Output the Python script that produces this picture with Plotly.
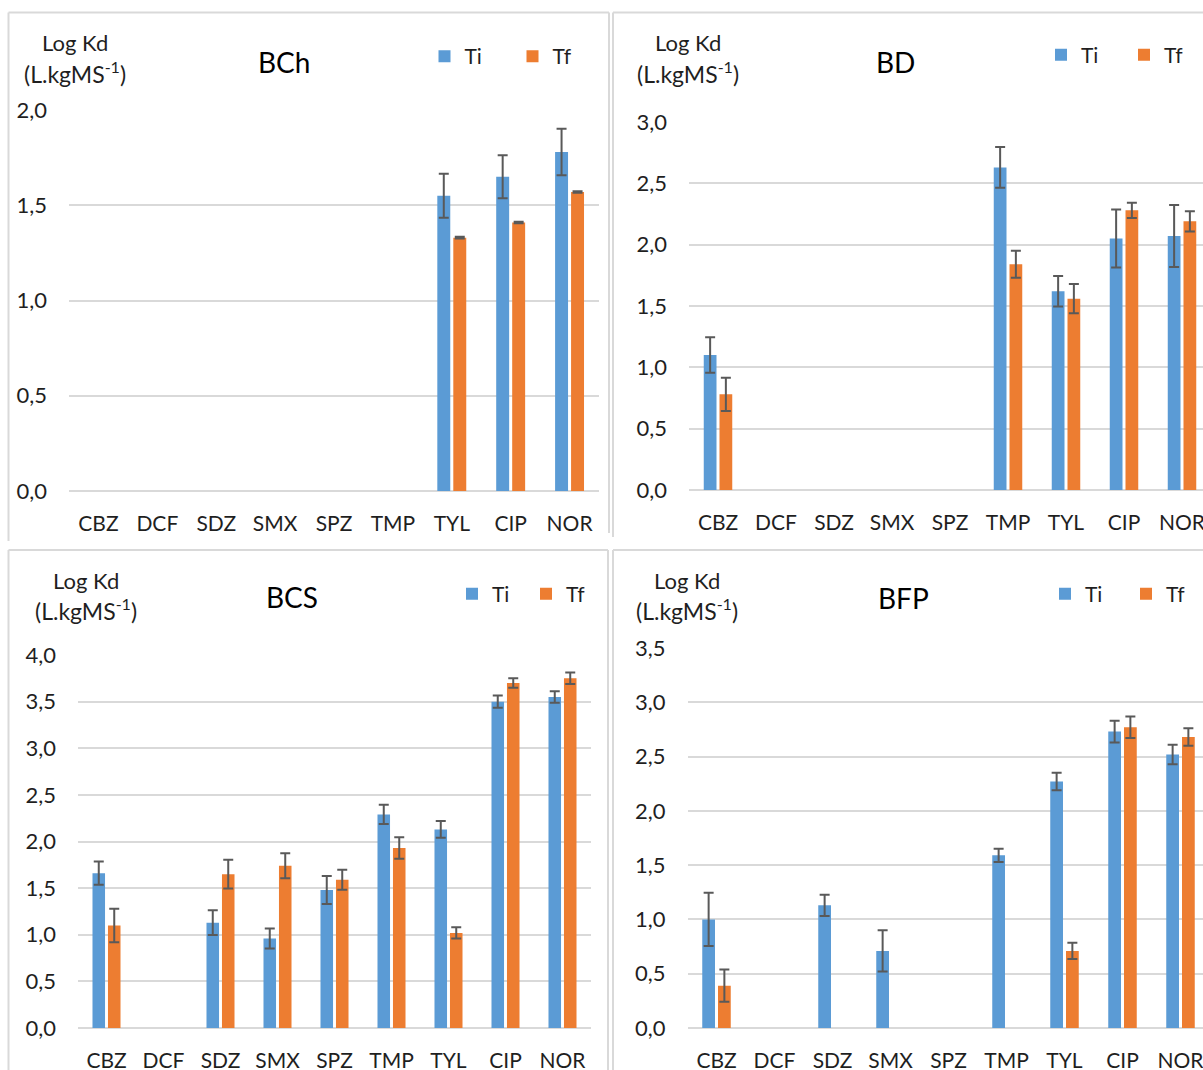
import plotly.graph_objects as go

W, H = 1203, 1070

categories = ["CBZ", "DCF", "SDZ", "SMX", "SPZ", "TMP", "TYL", "CIP", "NOR"]
series_names = ["Ti", "Tf"]

# BCh
bch_ti = [None, None, None, None, None, None, 1.55, 1.65, 1.78]
bch_ti_err = [0, 0, 0, 0, 0, 0, 0.115, 0.113, 0.122]
bch_tf = [None, None, None, None, None, None, 1.33, 1.41, 1.57]
bch_tf_err = [0, 0, 0, 0, 0, 0, 0.004, 0.004, 0.004]

# BD
bd_ti = [1.10, None, None, None, None, 2.63, 1.62, 2.05, 2.07]
bd_ti_err = [0.145, 0, 0, 0, 0, 0.167, 0.124, 0.236, 0.253]
bd_tf = [0.78, None, None, None, None, 1.84, 1.56, 2.28, 2.19]
bd_tf_err = [0.135, 0, 0, 0, 0, 0.11, 0.12, 0.062, 0.082]

# BCS
bcs_ti = [1.66, None, 1.13, 0.96, 1.48, 2.29, 2.13, 3.50, 3.55]
bcs_ti_err = [0.125, 0, 0.134, 0.108, 0.15, 0.103, 0.09, 0.065, 0.062]
bcs_tf = [1.10, None, 1.65, 1.74, 1.59, 1.93, 1.02, 3.70, 3.75]
bcs_tf_err = [0.18, 0, 0.153, 0.135, 0.108, 0.115, 0.06, 0.052, 0.062]

# BFP
bfp_ti = [1.00, None, 1.13, 0.71, None, 1.59, 2.27, 2.73, 2.52]
bfp_ti_err = [0.245, 0, 0.098, 0.19, 0, 0.062, 0.08, 0.10, 0.09]
bfp_tf = [0.39, None, None, None, None, None, 0.71, 2.77, 2.68]
bfp_tf_err = [0.148, 0, 0, 0, 0, 0, 0.075, 0.10, 0.08]

panel_titles = ["BCh", "BD", "BCS", "BFP"]
y_max = [2.0, 3.0, 4.0, 3.5]

BLUE = "#5B9BD5"
ORANGE = "#ED7D31"
ERR = "#595959"
GRID = "#D9D9D9"
TXT = "#1f1f1f"
FONT = "Lato"

panels = [
    (bch_ti, bch_ti_err, bch_tf, bch_tf_err),
    (bd_ti, bd_ti_err, bd_tf, bd_tf_err),
    (bcs_ti, bcs_ti_err, bcs_tf, bcs_tf_err),
    (bfp_ti, bfp_ti_err, bfp_tf, bfp_tf_err),
]

# pixel layout of each panel
geo = [
    dict(x0=69, x1=599, slot=530 / 9, yt=110, yb=491,
         title=(284, 62), ylab=(75, 42, 72), leg=(444.5, 56.5), legw=43),
    dict(x0=689, x1=1203, slot=58, yt=122, yb=490,
         title=(895, 62), ylab=(688, 42, 72), leg=(1061, 55), legw=38),
    dict(x0=78, x1=591, slot=513 / 9, yt=655, yb=1028,
         title=(292, 597), ylab=(86, 580, 609), leg=(472, 594), legw=29),
    dict(x0=687.5, x1=1203, slot=58, yt=648, yb=1028,
         title=(903, 598), ylab=(687, 580, 609), leg=(1065, 594), legw=36),
]

fig = go.Figure()
layout = {}
annotations = []

for i, (pdata, g) in enumerate(zip(panels, geo)):
    n = i + 1
    sfx = "" if n == 1 else str(n)
    xa, ya = "x" + sfx, "y" + sfx
    lg = "legend" + sfx
    ti, ti_e, tf, tf_e = pdata
    for name, vals, errs, col in [(series_names[0], ti, ti_e, BLUE), (series_names[1], tf, tf_e, ORANGE)]:
        fig.add_trace(go.Bar(
            x=categories, y=vals, name=name, marker=dict(color=col, line=dict(width=0)),
            error_y=dict(type="data", array=errs, visible=True, color=ERR, thickness=2, width=5),
            xaxis=xa, yaxis=ya, legend=lg, showlegend=True,
        ))
    xr_end = -0.5 + (g["x1"] - g["x0"]) / g["slot"]
    layout["xaxis" + sfx] = dict(
        domain=[g["x0"] / W, g["x1"] / W], anchor=ya, type="category",
        range=[-0.5, xr_end], showgrid=False, showline=False, zeroline=False,
        ticks="", tickfont=dict(family=FONT, size=21, color=TXT), ticklabelstandoff=18,
        automargin=False, fixedrange=True,
    )
    layout["yaxis" + sfx] = dict(
        domain=[1 - g["yb"] / H, 1 - g["yt"] / H], anchor=xa,
        range=[0, y_max[i]], dtick=0.5, tickformat=".1f", showgrid=True, gridcolor=GRID,
        gridwidth=2, zeroline=True, zerolinecolor=GRID, zerolinewidth=2, showline=False,
        ticks="", tickfont=dict(family=FONT, size=22, color=TXT), ticklabelstandoff=21,
        automargin=False, fixedrange=True,
    )
    layout[lg] = dict(
        orientation="h", x=(g["leg"][0] - 20) / W, xanchor="left",
        y=1 - g["leg"][1] / H, yanchor="middle",
        font=dict(family=FONT, size=21, color=TXT), bgcolor="rgba(0,0,0,0)",
        entrywidth=g["legw"], entrywidthmode="pixels", itemclick=False,
    )
    annotations.append(dict(
        text=panel_titles[i], x=g["title"][0] / W, y=1 - g["title"][1] / H,
        xref="paper", yref="paper", xanchor="center", yanchor="middle", showarrow=False,
        font=dict(family=FONT, size=28, color="#000"),
    ))
    annotations.append(dict(
        text="Log Kd", x=g["ylab"][0] / W, y=1 - g["ylab"][1] / H,
        xref="paper", yref="paper", xanchor="center", yanchor="middle", showarrow=False,
        font=dict(family=FONT, size=22, color=TXT),
    ))
    annotations.append(dict(
        text="(L.kgMS<sup>-1</sup>)", x=g["ylab"][0] / W, y=1 - g["ylab"][2] / H,
        xref="paper", yref="paper", xanchor="center", yanchor="middle", showarrow=False,
        font=dict(family=FONT, size=23, color=TXT),
    ))


def line(x0, y0, x1, y1):
    return dict(type="line", xref="paper", yref="paper",
                x0=x0 / W, y0=1 - y0 / H, x1=x1 / W, y1=1 - y1 / H,
                line=dict(color=GRID, width=2), layer="below")


shapes = [
    line(8.5, 12.5, 8.5, 541), line(8.5, 12.5, 609, 12.5), line(609, 12.5, 609, 533),
    line(613, 12.5, 613, 537), line(613, 12.5, 1203, 12.5),
    line(8.5, 550, 8.5, 1070), line(8.5, 550, 608, 550), line(608, 550, 608, 1070),
    line(613, 550, 613, 1070), line(613, 550, 1203, 550),
]

fig.update_layout(
    width=W, height=H, margin=dict(l=0, r=0, t=0, b=0, autoexpand=False),
    paper_bgcolor="white", plot_bgcolor="white",
    barmode="group", bargap=0.457, bargroupgap=0.19,
    separators=",.", font=dict(family=FONT, color=TXT),
    annotations=annotations, shapes=shapes, **layout,
)

fig.write_html(
    "out.html",
    config={"displayModeBar": False},
    post_script="document.body.style.margin='0';document.body.style.overflow='hidden';",
)
